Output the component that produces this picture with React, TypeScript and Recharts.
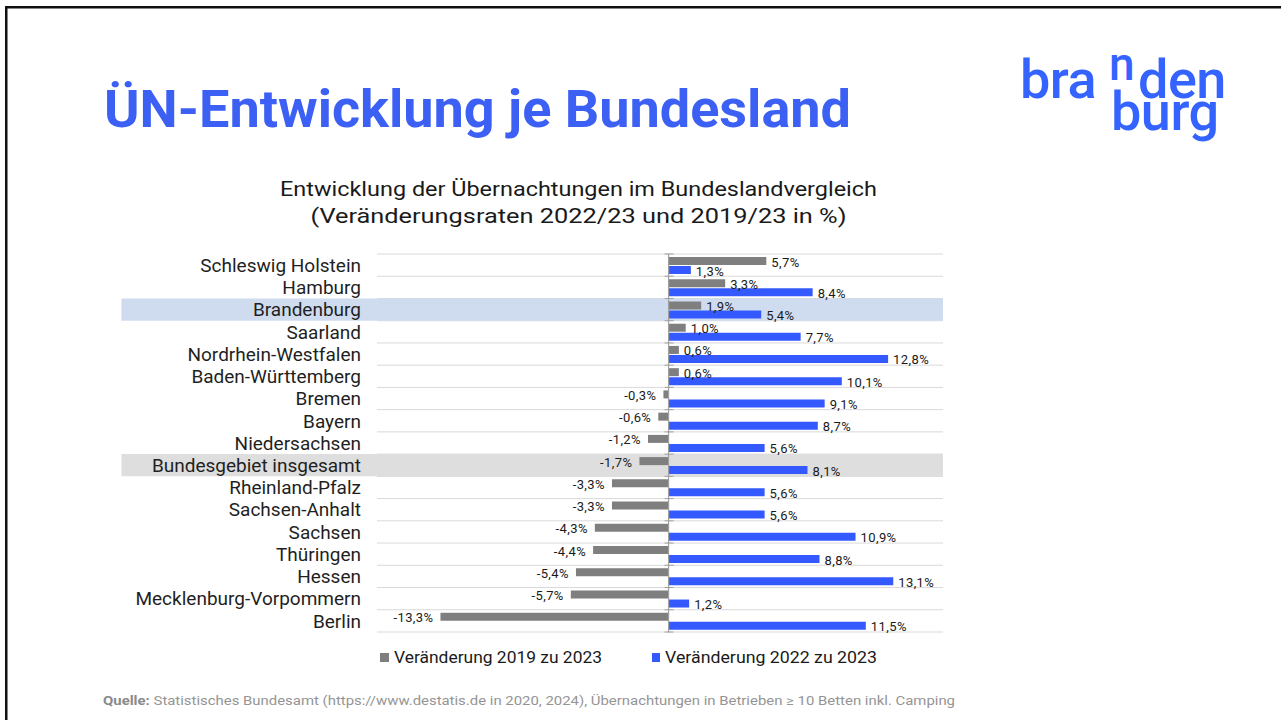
import React from 'react';
import {
  BarChart,
  Bar,
  XAxis,
  YAxis,
  CartesianGrid,
  ReferenceArea,
  ReferenceLine,
  LabelList,
} from 'recharts';

// ---------- data ----------
const categories = [
  'Schleswig Holstein',
  'Hamburg',
  'Brandenburg',
  'Saarland',
  'Nordrhein-Westfalen',
  'Baden-Württemberg',
  'Bremen',
  'Bayern',
  'Niedersachsen',
  'Bundesgebiet insgesamt',
  'Rheinland-Pfalz',
  'Sachsen-Anhalt',
  'Sachsen',
  'Thüringen',
  'Hessen',
  'Mecklenburg-Vorpommern',
  'Berlin',
];
const change2019to2023 = [5.7, 3.3, 1.9, 1.0, 0.6, 0.6, -0.3, -0.6, -1.2, -1.7, -3.3, -3.3, -4.3, -4.4, -5.4, -5.7, -13.3];
const change2022to2023 = [1.3, 8.4, 5.4, 7.7, 12.8, 10.1, 9.1, 8.7, 5.6, 8.1, 5.6, 5.6, 10.9, 8.8, 13.1, 1.2, 11.5];
const seriesNames = ['Veränderung 2019 zu 2023', 'Veränderung 2022 zu 2023'];
const highlightBrandenburg = 'Brandenburg';
const highlightBund = 'Bundesgebiet insgesamt';
const xDomain: [number, number] = [-17, 16];
const highlightLeftValue = -31.9;

const titleText = 'ÜN-Entwicklung je Bundesland';
const subtitleLines = [
  'Entwicklung der Übernachtungen im Bundeslandvergleich',
  '(Veränderungsraten 2022/23 und 2019/23 in %)',
];
const sourceLabel = 'Quelle:';
const sourceText =
  ' Statistisches Bundesamt (https://www.destatis.de  in 2020, 2024), Übernachtungen in Betrieben ≥ 10 Betten inkl. Camping';

const data = categories.map((name, i) => ({
  name,
  v2019: change2019to2023[i],
  v2022: change2022to2023[i],
}));

// ---------- styles ----------
const FONT = 'Roboto, "Noto Sans", sans-serif';
const GRAY = '#7f7f7f';
const BLUE = '#3459ff';
const TITLE_BLUE = '#3c60f4';
const LOGO_BLUE = '#3563ff';

const fmt = (v: number) => v.toFixed(1).replace('.', ',') + '%';

const ValueLabel = (props: any) => {
  const vb = props.viewBox || {};
  const x = props.x ?? vb.x;
  const y = props.y ?? vb.y;
  const width = props.width ?? vb.width;
  const height = props.height ?? vb.height;
  const value = props.value as number;
  const left = Math.min(x, x + width);
  const right = Math.max(x, x + width);
  const neg = value < 0;
  return (
    <text
      x={neg ? left - 7 : right + 5}
      y={y + height / 2 + 1}
      textAnchor={neg ? 'end' : 'start'}
      dominantBaseline="central"
      fontSize={13}
      fill="#1a1a1a"
      fontFamily={FONT}
      letterSpacing={0.4}
    >
      {fmt(value)}
    </text>
  );
};

const ZeroAxis = (props: any) => {
  const { x1, y1, x2, y2 } = props;
  const n = categories.length;
  const ticks = [];
  for (let i = 0; i <= n; i++) {
    const yy = y1 + ((y2 - y1) * i) / n;
    ticks.push(<line key={i} x1={x1 - 4} x2={x1 + 5} y1={yy} y2={yy} stroke="#a0a0a0" strokeWidth={1} />);
  }
  return (
    <g>
      <line x1={x1} y1={y1} x2={x2} y2={y2} stroke="#a0a0a0" strokeWidth={1.2} />
      {ticks}
    </g>
  );
};

export default function App() {
  return (
    <div style={{ position: 'absolute', left: 0, top: 0, width: 1281, height: 720, background: '#fff', overflow: 'hidden' }}>
      <svg width={1281} height={720} style={{ position: 'absolute', left: 0, top: 0 }}>
        {/* frame */}
        <rect x={5} y={6} width={1276} height={2.5} fill="#111" />
        <rect x={5} y={6} width={2.5} height={714} fill="#111" />
        {/* title */}
        <text x={104} y={127} fontFamily={FONT} fontWeight={700} fontSize={51} fill={TITLE_BLUE} textLength={747} lengthAdjust="spacingAndGlyphs">
          {titleText}
        </text>
        {/* logo */}
        <text x={1020} y={98} fontFamily={FONT} fontWeight={500} fontSize={54} fill={LOGO_BLUE} letterSpacing={-0.5}>bra</text>
        <text x={1109} y={80} fontFamily={FONT} fontWeight={500} fontSize={46} fill={LOGO_BLUE}>n</text>
        <text x={1138} y={98} fontFamily={FONT} fontWeight={500} fontSize={54} fill={LOGO_BLUE} letterSpacing={-0.5}>den</text>
        <text x={1111} y={130} fontFamily={FONT} fontWeight={500} fontSize={54} fill={LOGO_BLUE} letterSpacing={-0.5}>burg</text>
        {/* subtitle */}
        <text x={578.5} y={196} textAnchor="middle" fontFamily={FONT} fontSize={20.5} fill="#1a1a1a" textLength={597} lengthAdjust="spacingAndGlyphs">
          {subtitleLines[0]}
        </text>
        <text x={578.5} y={223} textAnchor="middle" fontFamily={FONT} fontSize={20.5} fill="#1a1a1a" textLength={536} lengthAdjust="spacingAndGlyphs">
          {subtitleLines[1]}
        </text>
        {/* legend */}
        <rect x={380} y={653} width={9} height={9} fill={GRAY} />
        <text x={394} y={663} fontFamily={FONT} fontSize={16.5} fill="#1a1a1a" textLength={208} lengthAdjust="spacingAndGlyphs">
          {seriesNames[0]}
        </text>
        <rect x={652} y={653} width={8} height={9} fill={BLUE} />
        <text x={665} y={663} fontFamily={FONT} fontSize={16.5} fill="#1a1a1a" textLength={212} lengthAdjust="spacingAndGlyphs">
          {seriesNames[1]}
        </text>
        {/* source */}
        <text x={103} y={705} fontFamily={FONT} fontSize={12.5} fill="#959595" textLength={852} lengthAdjust="spacingAndGlyphs">
          <tspan fontWeight={700} fill="#8a8a8a">{sourceLabel}</tspan>
          <tspan>{sourceText}</tspan>
        </text>
      </svg>
      <div style={{ position: 'absolute', left: 0, top: 0 }}>
        <BarChart
          width={960}
          height={640}
          data={data}
          layout="vertical"
          margin={{ top: 254, right: 17, bottom: 8, left: 122 }}
          barSize={8}
          barGap={1}
        >
          <CartesianGrid
            vertical={false}
            stroke="#d9d9d9"
            horizontalCoordinatesGenerator={({ offset }: any) =>
              Array.from({ length: categories.length + 1 }, (_, i) => offset.top + (i * offset.height) / categories.length)
            }
          />
          <XAxis type="number" domain={xDomain} hide allowDataOverflow />
          <YAxis
            type="category"
            dataKey="name"
            width={255}
            axisLine={false}
            tickLine={false}
            tickSize={0}
            tickMargin={16}
            interval={0}
            tick={{ fontSize: 19, fill: '#1f1f1f', fontFamily: FONT }}
          />
          <ReferenceArea
            y1={highlightBrandenburg}
            y2={highlightBrandenburg}
            x1={highlightLeftValue}
            x2={xDomain[1]}
            fill="#cfdcef"
            fillOpacity={1}
            stroke="none"
            ifOverflow="visible"
          />
          <ReferenceArea
            y1={highlightBund}
            y2={highlightBund}
            x1={highlightLeftValue}
            x2={xDomain[1]}
            fill="#dedede"
            fillOpacity={1}
            stroke="none"
            ifOverflow="visible"
          />
          <Bar dataKey="v2019" name={seriesNames[0]} fill={GRAY} isAnimationActive={false}>
            <LabelList dataKey="v2019" content={ValueLabel} />
          </Bar>
          <Bar dataKey="v2022" name={seriesNames[1]} fill={BLUE} isAnimationActive={false}>
            <LabelList dataKey="v2022" content={ValueLabel} />
          </Bar>
          <ReferenceLine x={0} shape={ZeroAxis} ifOverflow="visible" />
        </BarChart>
      </div>
    </div>
  );
}
